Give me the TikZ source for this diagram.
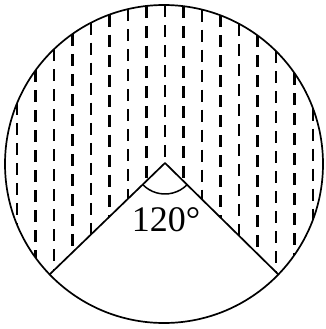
\documentclass[tikz,border=0pt]{standalone}
\usepackage{fontspec}
\setmainfont{Liberation Serif}
\usetikzlibrary{calc}
\begin{document}
\begin{tikzpicture}[x=1pt,y=-1pt,
  outline/.style={line width=1.7pt, line join=round},
  hatch/.style={line width=2.2pt, dash pattern=on 12pt off 8pt},
  anglemark/.style={line width=1.5pt},
  lbl/.style={font=\fontsize{36}{36}\selectfont, inner sep=0pt}]
\useasboundingbox (0,0) rectangle (325,329);
\coordinate (C) at (164,164);
\coordinate (O) at (165,163);
\coordinate (R) at ($(C)+(44:159)$);
\coordinate (L) at ($(C)+(136:159)$);
% hatching in the major sector
\begin{scope}
  \clip (O) -- (R) arc[start angle=44, end angle=-224, radius=159] -- cycle;
  \foreach \k in {-8,...,8}{
    \pgfmathsetmacro{\dx}{(165+18.5*\k-164)/100}
    \pgfmathsetmacro{\xx}{165+18.5*\k}
    \pgfmathsetmacro{\yy}{164-100*sqrt(max(1.59*1.59-\dx*\dx,0))}
    \draw[hatch] (\xx,\yy) -- (\xx,330);
  }
\end{scope}
% outline
\draw[outline] (C) circle[radius=159];
\draw[outline] (L) -- (O) -- (R);
\draw[anglemark] ($(O)+(136:31)$) arc[start angle=136, end angle=44, radius=31];
\node[lbl] (ang) at (166,220) {120°};
\end{tikzpicture}
\end{document}
